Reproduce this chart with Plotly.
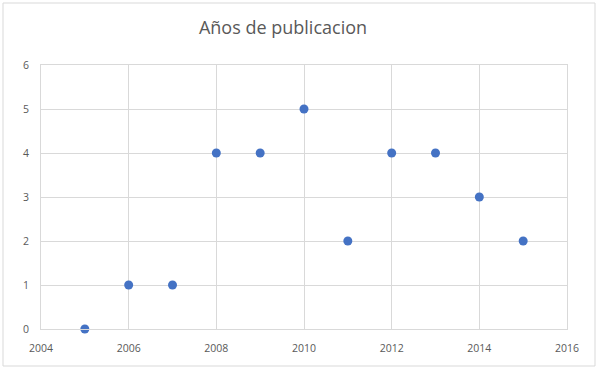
import plotly.graph_objects as go

years = [2005, 2006, 2007, 2008, 2009, 2010, 2011, 2012, 2013, 2014, 2015]
counts = [0, 1, 1, 4, 4, 5, 2, 4, 4, 3, 2]
title = "Años de publicacion"

W, H = 597, 369
ml, mr, mt, mb = 41, 30, 65, 40
pw, ph = W - ml - mr, H - mt - mb

fig = go.Figure(go.Scatter(
    x=years, y=counts, mode="markers",
    marker=dict(color="#4472C4", size=9),
    cliponaxis=False,
))

fig.update_layout(
    width=W, height=H,
    margin=dict(l=ml, r=mr, t=mt, b=mb),
    paper_bgcolor="white", plot_bgcolor="white",
    font=dict(family="Open Sans, Liberation Sans, sans-serif", color="#595959", size=10),
    title=dict(text=title, x=283 / W, xanchor="center", y=1 - 28 / H, yanchor="middle",
               font=dict(size=18, color="#595959")),
    showlegend=False,
    xaxis=dict(range=[2004, 2016], tickvals=[2004, 2006, 2008, 2010, 2012, 2014, 2016],
               showgrid=True, gridcolor="#D9D9D9", gridwidth=1,
               zeroline=False, showline=True, linecolor="#D9D9D9", mirror=True,
               ticks="", ticklen=0, ticklabelstandoff=9,
               tickfont=dict(size=10.5, color="#595959")),
    yaxis=dict(range=[0, 6], tickvals=[0, 1, 2, 3, 4, 5, 6],
               showgrid=True, gridcolor="#D9D9D9", gridwidth=1,
               zeroline=False, showline=True, linecolor="#D9D9D9", mirror=True,
               ticks="", ticklen=0, ticklabelstandoff=9,
               tickfont=dict(size=10.5, color="#595959")),
    shapes=[dict(type="rect", xref="paper", yref="paper",
                 x0=(3 - ml) / pw, x1=(595 - ml) / pw,
                 y0=(mt + ph - 366) / ph, y1=(mt + ph - 3) / ph,
                 line=dict(color="#D9D9D9", width=1), fillcolor="rgba(0,0,0,0)", layer="below")],
)

fig.write_html("out.html")
